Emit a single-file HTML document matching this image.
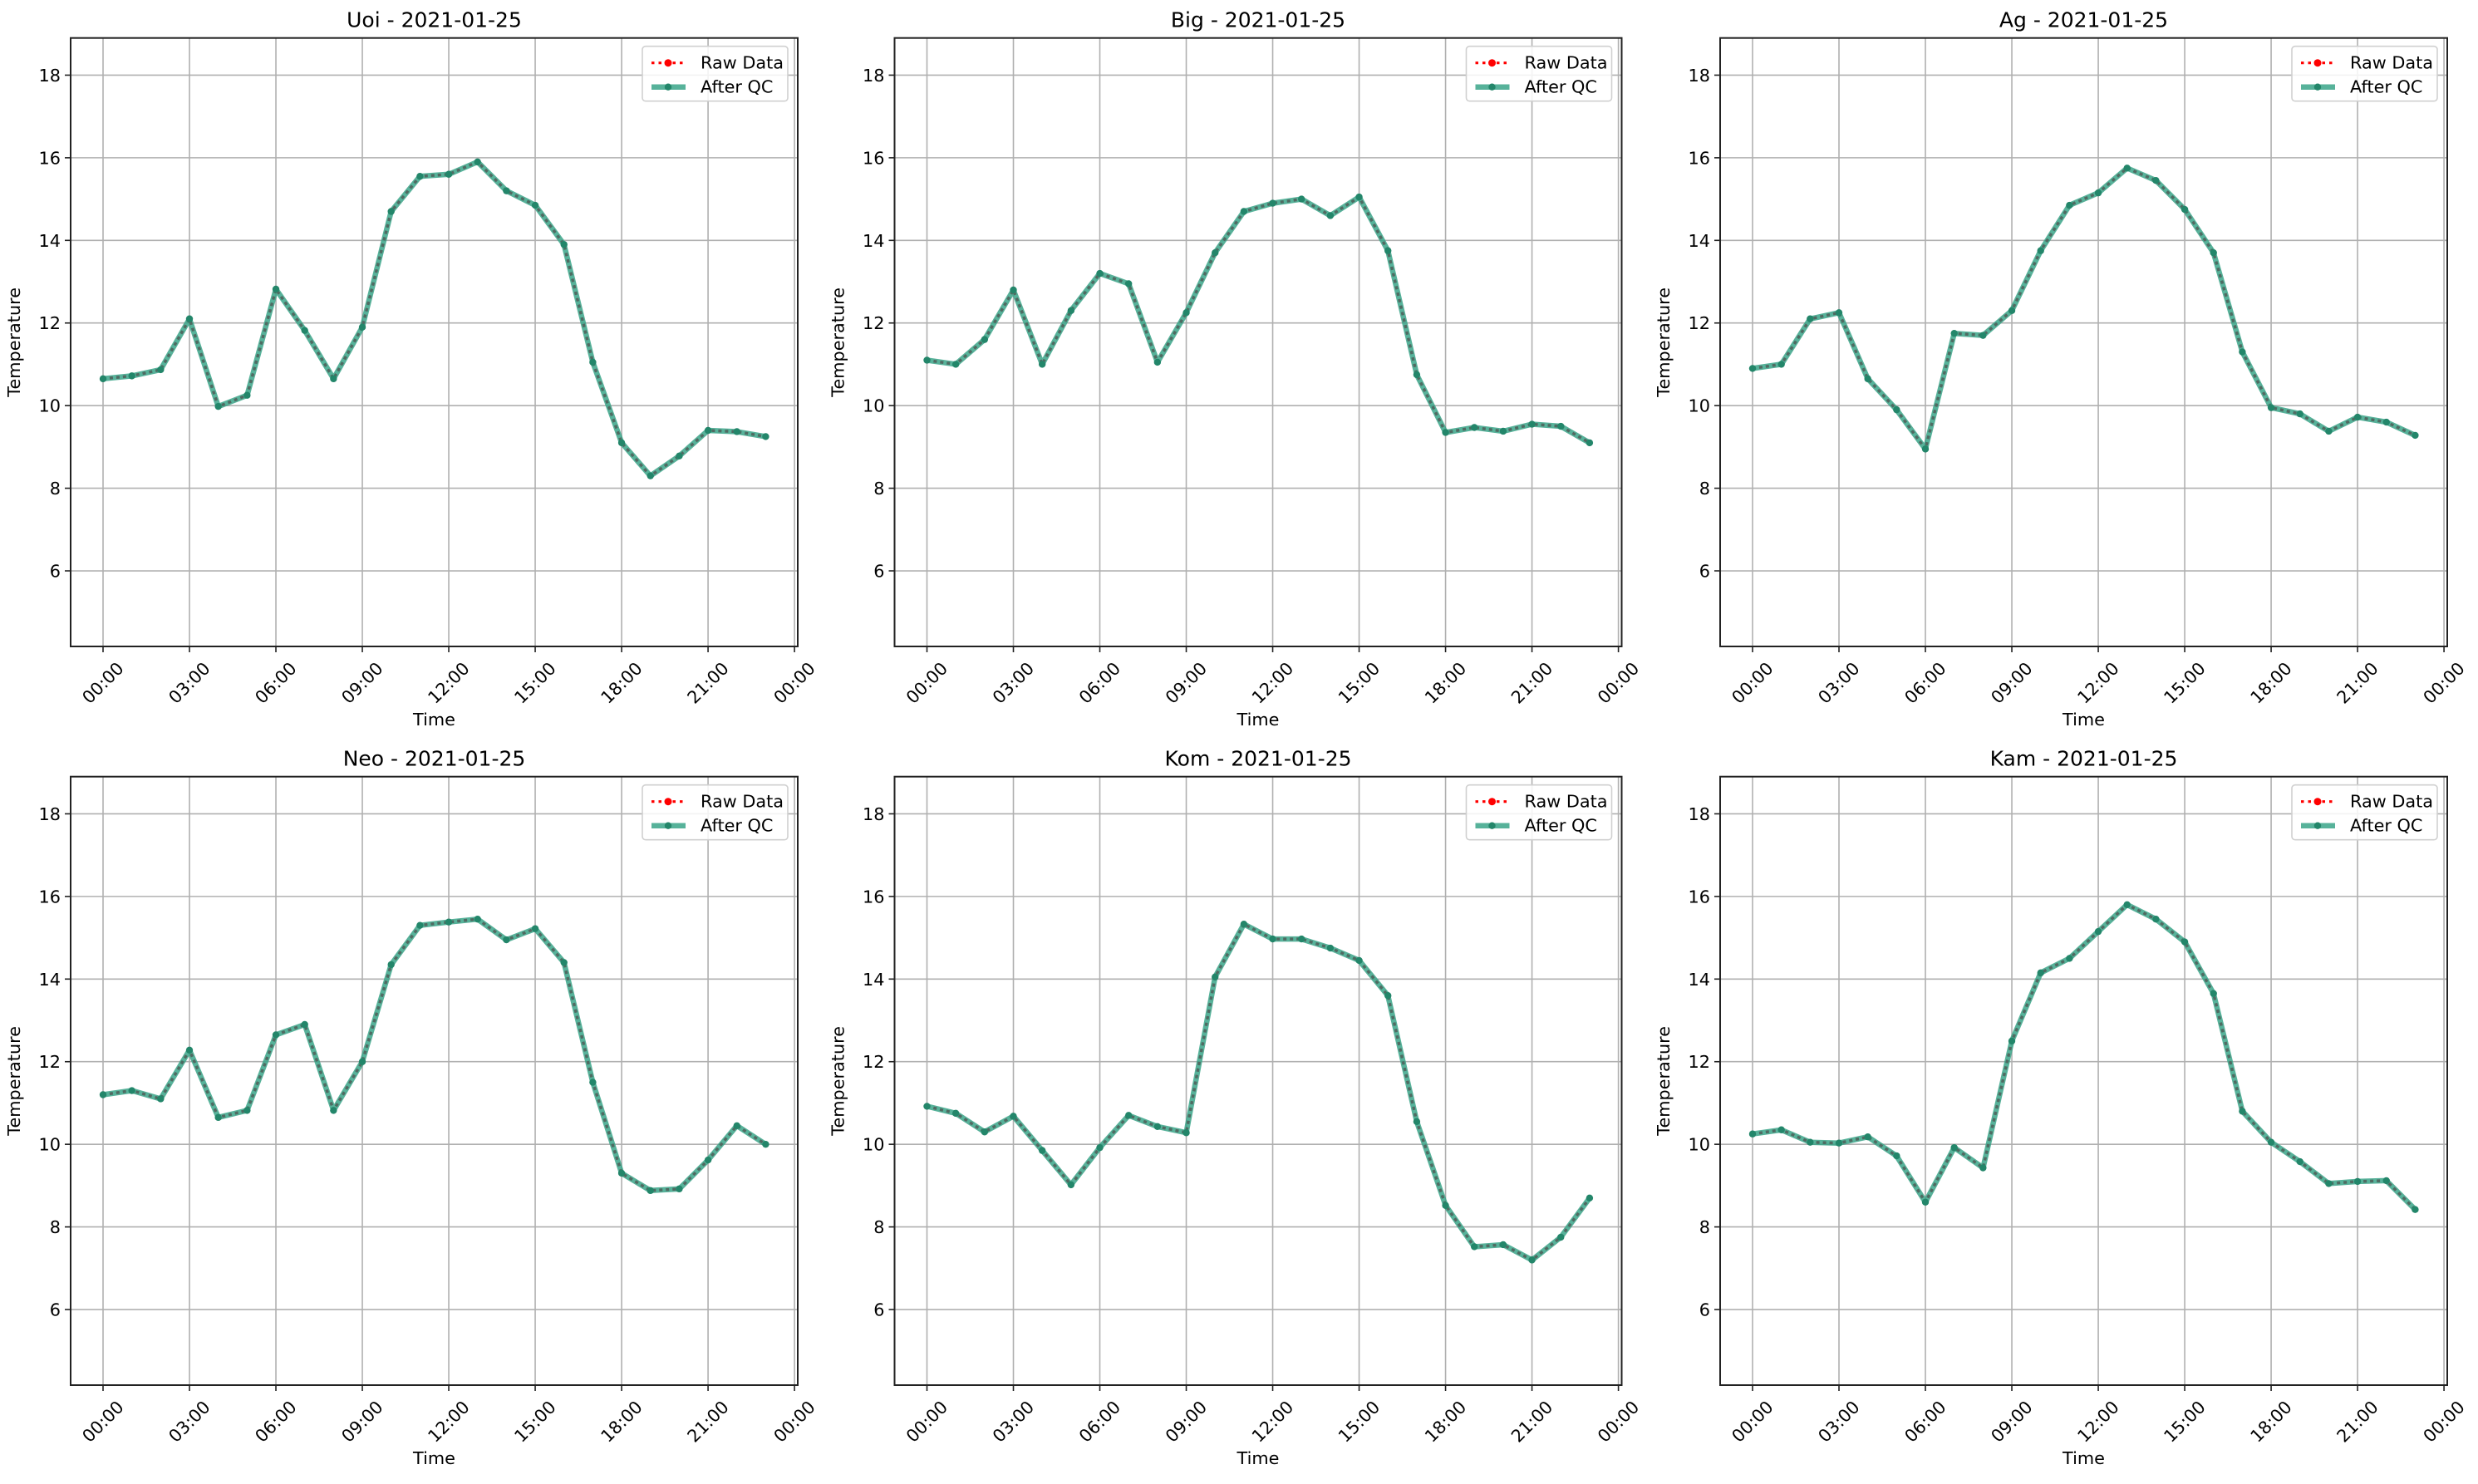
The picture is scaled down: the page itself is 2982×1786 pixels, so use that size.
<!DOCTYPE html>
<html><head><meta charset="utf-8"><style>
html,body{margin:0;padding:0;background:#fff;}
svg text{font-family:"DejaVu Sans","Liberation Sans",sans-serif;fill:#000;}
</style></head><body>
<svg id="s" width="2982" height="1781" xmlns="http://www.w3.org/2000/svg"></svg>
<script>
const data=[
["Uoi",[10.65,10.72,10.87,12.1,9.98,10.25,12.82,11.82,10.65,11.9,14.7,15.55,15.6,15.9,15.2,14.85,13.9,11.05,9.1,8.3,8.78,9.4,9.37,9.25]],
["Big",[11.1,11.0,11.6,12.8,11.0,12.3,13.2,12.95,11.05,12.25,13.7,14.7,14.9,15.0,14.6,15.05,13.75,10.75,9.35,9.47,9.38,9.55,9.5,9.1]],
["Ag",[10.9,11.0,12.1,12.25,10.65,9.9,8.95,11.75,11.7,12.3,13.75,14.85,15.15,15.75,15.45,14.75,13.7,11.3,9.95,9.8,9.38,9.72,9.6,9.28]],
["Neo",[11.2,11.3,11.1,12.28,10.65,10.82,12.65,12.9,10.82,12.0,14.35,15.3,15.38,15.45,14.95,15.22,14.4,11.5,9.3,8.88,8.92,9.62,10.45,10.0]],
["Kom",[10.92,10.75,10.3,10.68,9.85,9.02,9.92,10.7,10.43,10.28,14.05,15.33,14.97,14.97,14.75,14.45,13.6,10.55,8.52,7.52,7.57,7.2,7.75,8.7]],
["Kam",[10.25,10.35,10.05,10.03,10.18,9.72,8.6,9.92,9.43,12.5,14.15,14.5,15.15,15.8,15.45,14.9,13.65,10.8,10.05,9.58,9.05,9.1,9.12,8.42]]];
const W=875,lefts=[85,1076.5,2070],tops=[45.7,934.7],H=732.3;
const ymin=4.17,ymax=18.9;
let o='';
data.forEach((d,i)=>{
 const L=lefts[i%3],T=tops[Math.floor(i/3)],B=T+H,R=L+W;
 const X=h=>L+39+h*34.67, Y=v=>T+(ymax-v)/(ymax-ymin)*H;
 for(let h=0;h<=24;h+=3){const x=X(h);o+=`<line x1="${x}" y1="${T}" x2="${x}" y2="${B}" stroke="#b0b0b0" stroke-width="1.6"/>`;
  o+=`<line x1="${x}" y1="${B}" x2="${x}" y2="${B+7}" stroke="#222" stroke-width="1.6"/>`;
  const lab=String(h%24).padStart(2,'0')+':00';
  o+=`<text transform="translate(${x},${B+44}) rotate(-45)" text-anchor="middle" dominant-baseline="central" font-size="20.8">${lab}</text>`;}
 for(let v=6;v<=18;v+=2){const y=Y(v);o+=`<line x1="${L}" y1="${y}" x2="${R}" y2="${y}" stroke="#b0b0b0" stroke-width="1.6"/>`;
  o+=`<line x1="${L-7}" y1="${y}" x2="${L}" y2="${y}" stroke="#222" stroke-width="1.6"/>`;
  o+=`<text x="${L-12}" y="${y+7.5}" text-anchor="end" font-size="20.8">${v}</text>`;}
 const pts=d[1].map((v,h)=>X(h).toFixed(1)+','+Y(v).toFixed(1)).join(' ');
 o+=`<polyline points="${pts}" fill="none" stroke="#3aa588" stroke-opacity="0.85" stroke-width="6.5" stroke-linejoin="round"/>`;
 o+=`<polyline points="${pts}" fill="none" stroke="#4f6b62" stroke-width="3.5" stroke-dasharray="4,4"/>`;
 d[1].forEach((v,h)=>{o+=`<circle cx="${X(h)}" cy="${Y(v)}" r="4.2" fill="#23866a"/>`;});
 o+=`<rect x="${L}" y="${T}" width="${W}" height="${H}" fill="none" stroke="#222" stroke-width="2"/>`;
 o+=`<text x="${(L+R)/2}" y="${T-13}" text-anchor="middle" font-size="25">${d[0]} - 2021-01-25</text>`;
 o+=`<text transform="translate(${L-61},${(T+B)/2}) rotate(-90)" text-anchor="middle" font-size="20.8">Temperature</text>`;
 o+=`<text x="${(L+R)/2}" y="${B+95}" text-anchor="middle" font-size="20.8">Time</text>`;
 const lx=R-187,ly=T+10;
 o+=`<rect x="${lx}" y="${ly}" width="175" height="66" rx="4" fill="#fff" fill-opacity="0.85" stroke="#d0d0d0" stroke-width="1.6"/>`;
 o+=`<line x1="${lx+11}" y1="${ly+20}" x2="${lx+52}" y2="${ly+20}" stroke="#f00" stroke-width="3.2" stroke-dasharray="3.5,5"/>`;
 o+=`<circle cx="${lx+31}" cy="${ly+20}" r="4.5" fill="#f00"/>`;
 o+=`<text x="${lx+70}" y="${ly+27}" font-size="20.8">Raw Data</text>`;
 o+=`<line x1="${lx+11}" y1="${ly+49}" x2="${lx+52}" y2="${ly+49}" stroke="#3aa588" stroke-opacity="0.85" stroke-width="6.5"/>`;
 o+=`<circle cx="${lx+31}" cy="${ly+49}" r="4.2" fill="#23866a"/>`;
 o+=`<text x="${lx+70}" y="${ly+56}" font-size="20.8">After QC</text>`;
});
document.getElementById('s').innerHTML=o;
</script>
</body></html>
